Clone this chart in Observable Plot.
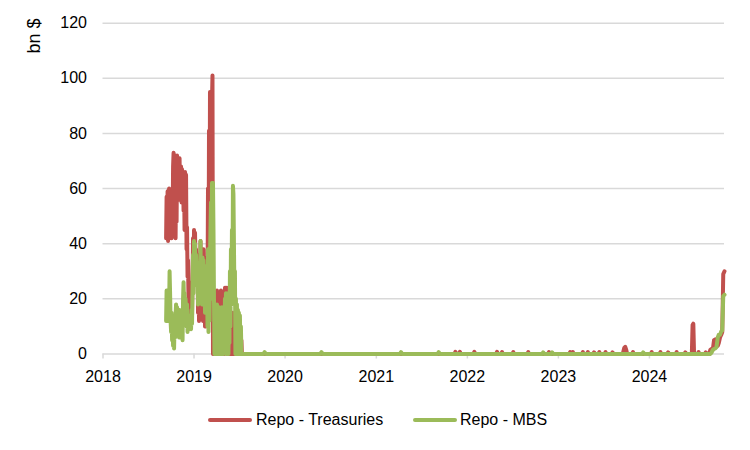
<!DOCTYPE html>
<html>
<head>
<meta charset="utf-8">
<script src="https://cdn.jsdelivr.net/npm/d3@7"></script>
<script src="https://cdn.jsdelivr.net/npm/@observablehq/plot@0.6"></script>
<style>
  html, body { margin: 0; padding: 0; background: #fff; }
  #wrap { position: relative; width: 750px; height: 450px; font-family: "Liberation Sans", Arial, sans-serif; }
  #legend { position: absolute; left: 0; top: 408px; width: 750px; height: 24px; font-size: 16px; color: #000; }
  .item { position: absolute; top: 0; height: 24px; line-height: 24px; white-space: nowrap; }
  .swatch { position: absolute; top: 10px; height: 4px; border-radius: 2px; }
  #ylabel { position: absolute; left: 34px; top: 36px; font-size: 18px; color: #000; white-space: nowrap;
            transform: translate(-50%, -50%) rotate(-90deg); line-height: 1; }
</style>
</head>
<body>
<div id="wrap"><div id="chart"></div><div id="ylabel"></div><div id="legend"></div></div>
<script>
// ---- data (bn $) ----
const seriesNames = ["Repo - Treasuries", "Repo - MBS"];
const seriesColors = ["#C0504D", "#9BBB59"];
const yTitle = "bn $";
const yTicks = [0, 20, 40, 60, 80, 100, 120];
const yearTicks = ["2018", "2019", "2020", "2021", "2022", "2023", "2024"];

const dates = [
  "2018-09-11","2018-09-13","2018-09-15","2018-09-17","2018-09-19","2018-09-21","2018-09-23","2018-09-25","2018-09-27","2018-09-29",
  "2018-10-01","2018-10-03","2018-10-05","2018-10-07","2018-10-09","2018-10-11","2018-10-13","2018-10-15","2018-10-17","2018-10-19",
  "2018-10-21","2018-10-23","2018-10-25","2018-10-29","2018-10-31","2018-11-02","2018-11-04","2018-11-06","2018-11-10","2018-11-12",
  "2018-11-14","2018-11-16","2018-11-18","2018-11-20","2018-11-22","2018-11-24","2018-11-26","2018-11-28","2018-11-30","2018-12-02",
  "2018-12-04","2018-12-06","2018-12-08","2018-12-10","2018-12-12","2018-12-14","2018-12-16","2018-12-20","2018-12-22","2018-12-24",
  "2018-12-28","2018-12-30","2019-01-01","2019-01-03","2019-01-05","2019-01-07","2019-01-09","2019-01-13","2019-01-15","2019-01-17",
  "2019-01-19","2019-01-21","2019-01-23","2019-01-25","2019-01-27","2019-01-29","2019-01-31","2019-02-02","2019-02-04","2019-02-06",
  "2019-02-08","2019-02-10","2019-02-12","2019-02-14","2019-02-16","2019-02-18","2019-02-22","2019-02-24","2019-02-26","2019-02-28",
  "2019-03-02","2019-03-04","2019-03-06","2019-03-10","2019-03-12","2019-03-14","2019-03-16","2019-03-18","2019-03-20","2019-03-22",
  "2019-03-24","2019-03-26","2019-03-28","2019-03-30","2019-04-01","2019-04-03","2019-04-05","2019-04-07","2019-04-09","2019-04-11",
  "2019-04-13","2019-04-15","2019-04-17","2019-04-19","2019-04-21","2019-04-23","2019-04-25","2019-04-27","2019-04-29","2019-05-01",
  "2019-05-03","2019-05-05","2019-05-07","2019-05-09","2019-05-11","2019-05-13","2019-05-15","2019-05-17","2019-05-19","2019-05-21",
  "2019-05-23","2019-05-25","2019-05-27","2019-05-29","2019-05-31","2019-06-02","2019-06-04","2019-06-06","2019-06-08","2019-06-10",
  "2019-06-12","2019-06-14","2019-06-16","2019-06-18","2019-06-20","2019-06-22","2019-06-24","2019-06-26","2019-06-28","2019-06-30",
  "2019-07-02","2019-07-04","2019-07-06","2019-07-08","2019-07-10","2019-07-12","2019-07-16",
  "2019-10-06","2019-10-11","2019-10-16","2020-05-21","2020-05-26","2020-05-31","2021-04-05","2021-04-10","2021-04-15",
  "2021-09-03","2021-09-08","2021-09-13","2021-11-10","2021-11-14","2021-11-18","2021-11-28","2021-12-02","2021-12-06",
  "2022-01-25","2022-01-29","2022-02-02","2022-04-26","2022-04-30","2022-05-04","2022-05-16","2022-05-20","2022-05-24",
  "2022-06-30","2022-07-04","2022-07-08","2022-08-29","2022-09-02","2022-09-06","2022-10-28","2022-11-01","2022-11-05",
  "2022-11-20","2022-11-24","2022-11-28","2022-12-03","2022-12-07","2022-12-11","2023-02-13","2023-02-17","2023-02-21",
  "2023-02-24","2023-02-28","2023-03-04","2023-04-05","2023-04-09","2023-04-13","2023-04-25","2023-04-29","2023-05-03",
  "2023-05-20","2023-05-24","2023-05-28","2023-06-10","2023-06-14","2023-06-18","2023-07-05","2023-07-09","2023-07-13",
  "2023-08-02","2023-08-06","2023-08-10","2023-09-16","2023-09-22","2023-09-26","2023-09-30","2023-10-04",
  "2023-10-23","2023-10-27","2023-10-31","2023-12-03","2023-12-07","2023-12-11","2024-01-06","2024-01-10","2024-01-14",
  "2024-02-10","2024-02-14","2024-02-18","2024-03-12","2024-03-16","2024-03-20","2024-04-15","2024-04-19","2024-04-23",
  "2024-05-20","2024-05-24","2024-05-28","2024-06-19","2024-06-22","2024-06-25","2024-06-28",
  "2024-07-12","2024-07-16","2024-07-20","2024-08-10","2024-08-14","2024-08-18",
  "2024-08-28","2024-09-01","2024-09-06","2024-09-11","2024-09-16","2024-09-21","2024-09-26","2024-10-01","2024-10-05",
  "2024-10-10","2024-10-15","2024-10-19","2024-10-23","2024-10-28"
];

const treasuries = [
  42,57,45,59,41,58,60,43,57,46,
  59,42,55,45,68,73,72,52,70,42,
  62,48,72,56,70,60,71,56,68,55,
  67,58,65,52,64,45,66,55,65,38,
  46,28,34,18,26,13,22,15,23,14,
  42,30,45,36,44,32,38,30,36,15,
  28,12,32,24,41,16,38,14,36,12,
  38,22,34,10,28,10,35,20,60,16,
  81,30,95,80,95,92,101,0,0,0,
  0,0,0,22,10,23,15,22,8,21,
  5,22,10,23,0,12,0,0,0,0,
  0,24,10,24,8,24,0,0,0,0,
  0,0,0,0,0,0,15,0,0,0,
  0,0,0,0,0,0,0,0,0,0,
  0,0,0,0,5,0,0,
  0,0,0,0,0,0,0,0,0,
  0,0,0,0,0.8,0,0,0.8,0,
  0,0.8,0,0,0.8,0,0,0.7,0,
  0,0.7,0,0,0.7,0,0,0,0,
  0,0.7,0,0,0,0,0,0.7,0,
  0,0.7,0,0,0.7,0,0,0.7,0,
  0,0.6,0,0,0.7,0,0,0.7,0,
  0,0.6,0,0,2.2,2.6,1.5,0,
  0,0.7,0,0,0,0,0,0.7,0,
  0,0.7,0,0,0.6,0,0,0.7,0,
  0,0.6,0,0,10.5,11,0,
  0,0.7,0,0,0.6,0,
  0,1.5,1.8,1.5,5,5.3,4.8,3,4,
  6,7,8,29,30
];

const mbs = [
  12,23,14,22,12,20,16,30,22,12,
  8,15,5,10,3,8,2,12,6,14,
  18,10,17,8,15,6,16,9,14,7,
  12,5,20,26,18,22,13,20,16,10,
  18,8,14,9,14,10,12,9,16,11,
  36,22,41,28,40,25,36,26,33,18,
  28,20,30,22,41,20,33,18,35,28,
  34,22,30,15,24,20,32,10,38,8,
  28,12,35,55,20,62,50,62,45,20,
  0,14,0,17,2,18,0,16,3,17,
  0,15,0,16,5,17,0,14,0,12,
  2,20,5,22,0,18,8,22,0,20,
  4,30,10,38,18,45,20,61,58,40,
  22,30,0,20,2,18,0,16,5,15,
  0,14,2,10,0,0,0,
  0,0.7,0,0,0.7,0,0,0.7,0,
  0,0.7,0,0,0,0,0,0,0,
  0,0,0,0,0,0,0,0,0,
  0,0,0,0,0,0,0,0.6,0,
  0,0,0,0,0.6,0,0,0,0,
  0,0,0,0,0,0,0,0,0,
  0,0,0,0,0,0,0,0,0,
  0,0,0,0,0,0,0,0,
  0,0,0,0,0.6,0,0,0,0,
  0,0,0,0,0,0,0,0,0,
  0,0,0,0,0,0,0,
  0,0,0,0,0,0,
  0,0,0.5,1.5,1.8,2,2.5,6,7,
  7,8.2,8.5,21,21.5
];

// ---- build table ----
const rows = dates.map((d, i) => ({ date: new Date(d + "T00:00:00Z"), treasuries: treasuries[i], mbs: mbs[i] }));
const fontFamily = '"Liberation Sans", Arial, sans-serif';

const chart = Plot.plot({
  width: 750,
  height: 392,
  marginLeft: 102.5,
  marginRight: 26,
  marginTop: 22.7,
  marginBottom: 38.5,
  style: { fontFamily, fontSize: "16px", color: "#000", background: "#fff" },
  x: { type: "utc", domain: [new Date("2018-01-01T00:00:00Z"), new Date("2024-10-28T00:00:00Z")] },
  y: { domain: [0, 120] },
  marks: [
    Plot.gridY(yTicks, { stroke: "#D9D9D9", strokeOpacity: 1, strokeWidth: 1.5 }),
    Plot.axisY(yTicks, { tickSize: 0, tickPadding: 16, label: null, fill: "#000", fontSize: 16 }),
    Plot.axisX(yearTicks.map(y => new Date(y + "-01-01T00:00:00Z")), {
      tickSize: 5, tickPadding: 12, stroke: "#D9D9D9", strokeWidth: 1.5,
      tickFormat: d3.utcFormat("%Y"), label: null, fill: "#000", fontSize: 16
    }),
    Plot.lineY(rows, { x: "date", y: "treasuries", stroke: seriesColors[0], strokeWidth: 4, strokeLinejoin: "round", strokeLinecap: "round" }),
    Plot.lineY(rows, { x: "date", y: "mbs", stroke: seriesColors[1], strokeWidth: 4, strokeLinejoin: "round", strokeLinecap: "round" })
  ]
});
document.getElementById("chart").appendChild(chart);
document.getElementById("ylabel").textContent = yTitle;

// ---- legend below ----
const legend = document.getElementById("legend");
const legendPos = [[208, 44, 256], [413, 44, 460]];
seriesNames.forEach((name, i) => {
  const sw = document.createElement("div");
  sw.className = "swatch";
  sw.style.left = legendPos[i][0] + "px";
  sw.style.width = legendPos[i][1] + "px";
  sw.style.background = seriesColors[i];
  legend.appendChild(sw);
  const t = document.createElement("div");
  t.className = "item";
  t.style.left = legendPos[i][2] + "px";
  t.textContent = name;
  legend.appendChild(t);
});
</script>
</body>
</html>
